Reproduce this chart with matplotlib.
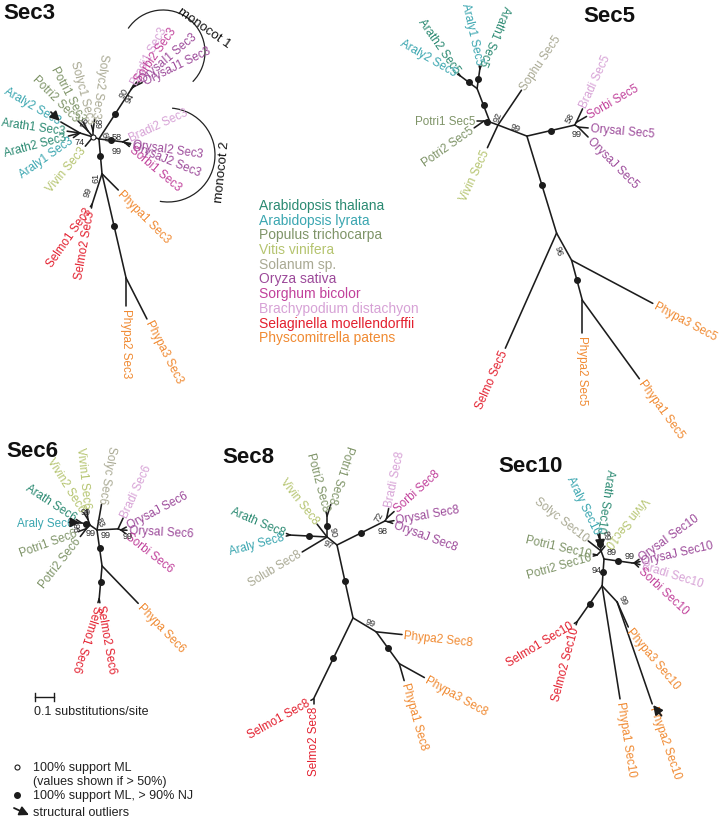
import numpy as np
import matplotlib
matplotlib.use("Agg")
import matplotlib.pyplot as plt
from matplotlib.patches import Arc

plt.rcParams['font.family'] = ['Liberation Sans', 'DejaVu Sans']

# ======================= DATA =======================
species_names = ["Arabidopsis thaliana", "Arabidopsis lyrata", "Populus trichocarpa",
                 "Vitis vinifera", "Solanum sp.", "Oryza sativa", "Sorghum bicolor",
                 "Brachypodium distachyon", "Selaginella moellendorffii", "Physcomitrella patens"]
species_colors = ["#2b8a72", "#3aa6b0", "#7f9468", "#b5c46f", "#a9a993",
                  "#9c4a9a", "#c1419b", "#d7a2d6", "#e3202f", "#f08a32"]
code_species = {"Arath": 0, "Araly": 1, "Potri": 2, "Vivin": 3, "Solyc": 4, "Sophu": 4,
                "Solub": 4, "Orysa": 5, "Sorbi": 6, "Bradi": 7, "Selmo": 8, "Phypa": 9}

# ---- Sec3 (branch lengths in substitutions/site) ----
sec3_nodes = ["a1", "Araly2 Sec3", "Arath1 Sec3", "Arath2 Sec3", "Araly1 Sec3",
              "p3", "Potri2 Sec3", "Potri1 Sec3", "s3", "Solyc1 Sec3", "Solyc2 Sec3",
              "Vivin Sec3", "c1", "m1", "Bradi1 Sec3", "m1a", "Sorbi2 Sec3", "OrysaI1 Sec3",
              "OrysaJ1 Sec3", "m2", "Bradi2 Sec3", "m2a", "OrysaI2 Sec3", "OrysaJ2 Sec3",
              "Sorbi1 Sec3", "n61", "sel3", "Selmo1 Sec3", "Selmo2 Sec3", "Phypa1 Sec3",
              "ph3", "Phypa2 Sec3", "Phypa3 Sec3"]
sec3_parents = ["root", "a1", "a1", "a1", "a1", "root", "p3", "p3", "root", "s3", "s3",
                "root", "root", "c1", "m1", "m1", "m1a", "m1a", "m1a", "c1", "m2", "m2",
                "m2a", "m2a", "m2a", "c1", "n61", "sel3", "sel3", "n61", "n61", "ph3", "ph3"]
sec3_lengths = [0.072, 0.116, 0.068, 0.063, 0.042, 0.042, 0.074, 0.053, 0.032, 0.032, 0.063,
                0.063, 0.033, 0.311, 0.026, 0.016, 0.032, 0.042, 0.053, 0.126, 0.032, 0.011,
                0.032, 0.032, 0.032, 0.184, 0.168, 0.016, 0.021, 0.121, 0.563, 0.147, 0.242]
sec3_support = {"m1": 90, "m1a": 94, "m2": 58, "m2a": 99, "n61": 61, "sel3": 99,
                "a1": 74, "p3": 56, "s3": 68, "c1": 66}
sec3_full = ["m1", "m2", "n61", "ph3"]
sec3_open = ["root"]
sec3_outliers = ["Araly2 Sec3"]

# ---- Sec5 ----
sec5_nodes = ["d5", "p5", "Potri1 Sec5", "Potri2 Sec5", "ab5", "a5b", "Arath2 Sec5",
              "Araly2 Sec5", "a5a", "Araly1 Sec5", "Arath1 Sec5", "Sophu Sec5", "Vivin Sec5",
              "q5", "m5", "m5a", "Bradi Sec5", "Sorbi Sec5", "m5b", "OrysaI Sec5", "OrysaJ Sec5",
              "r5", "Selmo Sec5", "s5", "Phypa3 Sec5", "t5", "Phypa2 Sec5", "Phypa1 Sec5"]
sec5_parents = ["root", "d5", "p5", "p5", "d5", "ab5", "a5b", "a5b", "ab5", "a5a", "a5a",
                "root", "root", "root", "q5", "m5", "m5a", "m5a", "m5", "m5b", "m5b",
                "q5", "r5", "r5", "s5", "s5", "t5", "t5"]
sec5_lengths = [0.045, 0.032, 0.037, 0.063, 0.189, 0.111, 0.016, 0.016, 0.105, 0.016, 0.016,
                0.221, 0.132, 0.163, 0.258, 0.016, 0.079, 0.063, 0.021, 0.053, 0.074,
                0.534, 0.663, 0.163, 0.484, 0.218, 0.174, 0.511]
sec5_support = {"d5": 92, "q5": 99, "m5a": 58, "m5b": 99, "s5": 96}
sec5_full = ["p5", "ab5", "a5b", "a5a", "m5", "r5", "t5"]

# ---- Sec6 ----
sec6_nodes = ["d6", "ar6", "Arath Sec6", "Araly Sec6", "v6", "Vivin2 Sec6", "Vivin1 Sec6",
              "p6", "Potri1 Sec6", "Potri2 Sec6", "Solyc Sec6", "m6", "Bradi Sec6", "m6a",
              "OrysaJ Sec6", "OrysaI Sec6", "Sorbi Sec6", "n6", "s6", "Selmo1 Sec6",
              "Selmo2 Sec6", "Phypa Sec6"]
sec6_parents = ["root", "d6", "ar6", "ar6", "d6", "v6", "v6", "d6", "p6", "p6", "root",
                "root", "m6", "m6", "m6a", "m6a", "m6a", "root", "n6", "s6", "s6", "n6"]
sec6_lengths = [0.045, 0.047, 0.032, 0.032, 0.032, 0.042, 0.053, 0.026, 0.047, 0.053, 0.137,
                0.111, 0.063, 0.016, 0.032, 0.032, 0.032, 0.191, 0.174, 0.021, 0.021, 0.274]
sec6_support = {"v6": 99, "d6": 83, "ar6": 98, "p6": 99, "m6": 99, "m6a": 99}
sec6_full = ["ar6", "n6", "s6"]
sec6_outliers = ["ar6"]

# ---- Sec8 ----
sec8_nodes = ["d8", "ar8", "Arath Sec8", "Araly Sec8", "po8", "Potri2 Sec8", "Potri1 Sec8",
              "Vivin Sec8", "Solub Sec8", "m8", "m8a", "Bradi Sec8", "Sorbi Sec8", "m8b",
              "OrysaI Sec8", "OrysaJ Sec8", "n8", "s8", "Selmo1 Sec8", "Selmo2 Sec8",
              "ph8", "Phypa2 Sec8", "ph8b", "Phypa1 Sec8", "Phypa3 Sec8"]
sec8_parents = ["root", "d8", "ar8", "ar8", "d8", "po8", "po8", "d8", "d8", "root", "m8",
                "m8a", "m8a", "m8", "m8b", "m8b", "root", "n8", "s8", "s8", "n8", "ph8",
                "ph8", "ph8b", "ph8b"]
sec8_lengths = [0.067, 0.195, 0.021, 0.021, 0.111, 0.021, 0.063, 0.086, 0.153, 0.283, 0.016,
                0.053, 0.053, 0.016, 0.032, 0.026, 0.393, 0.474, 0.016, 0.026, 0.142, 0.137,
                0.207, 0.093, 0.151]
sec8_support = {"d8": 97, "po8": 90, "m8a": 72, "m8b": 98, "ph8": 99}
sec8_full = ["ar8", "po8", "m8", "n8", "s8", "ph8b"]

# ---- Sec10 ----
sec10_nodes = ["d10", "ar10", "Arath Sec10", "Araly Sec10", "Vivin Sec10", "Solyc Sec10",
               "po10", "Potri1 Sec10", "Potri2 Sec10", "m10", "m10a", "OrysaI Sec10",
               "OrysaJ Sec10", "Bradi Sec10", "Sorbi Sec10", "n10", "s10", "Selmo1 Sec10",
               "Selmo2 Sec10", "Phypa1 Sec10", "ph10", "Phypa3 Sec10", "Phypa2 Sec10"]
sec10_parents = ["root", "d10", "ar10", "ar10", "d10", "d10", "d10", "po10", "po10", "root",
                 "m10", "m10a", "m10a", "m10a", "m10a", "root", "n10", "s10", "s10", "n10",
                 "n10", "ph10", "ph10"]
sec10_lengths = [0.045, 0.074, 0.016, 0.016, 0.032, 0.086, 0.030, 0.021, 0.021, 0.149, 0.011,
                 0.032, 0.032, 0.032, 0.032, 0.142, 0.231, 0.016, 0.016, 0.602, 0.116, 0.144,
                 0.567]
sec10_support = {"ar10": 89, "d10": 89, "po10": 94, "m10a": 99, "ph10": 99}
sec10_full = ["ar10", "m10", "n10", "s10"]
sec10_outliers = ["d10", "Phypa2 Sec10"]

scale_value = 0.1
scale_label = "0.1 substitutions/site"
legend_open = ["100% support ML", "(values shown if > 50%)"]
legend_full = "100% support ML, > 90% NJ"
legend_arrow = "structural outliers"

# ======================= LAYOUT =======================
PX = 190.0          # pixels per substitution/site
LINE = "#1c1c1c"

sec3_layout = dict(
    root=(93, 138),
    angles=[163, 150, 172, 195, 215, 130, 135, 118, 90, 105, 82, 230, -18, 57, 62, 50, 55, 40,
            26, -7, 25, -20, -8, -22, -40, -85, -108, -125, -100, -45, -77, -90, -63],
    flip={"Solyc2 Sec3"}, noflip=set(), rot={},
    sup={"m1": (-7, 3, 60), "m1a": (-3, 10, 60), "m2": (-6, -5, 0), "m2a": (-8, 8, 0),
         "n61": (-6, 3, 90), "sel3": (-4, -13, 70), "a1": (0, 8, 0), "p3": (-3, -10, 70),
         "s3": (7, -9, 90), "c1": (6, -3, -60)},
    arrows={"Araly2 Sec3": (135, 14)})

sec5_layout = dict(
    root=(498, 126),
    angles=[160, 170, 180, 215, 111, 143, 125, 150, 82, 103, 67, 56, 245, -21, 13, 60, 65, 30,
            -30, -5, -45, -73, 246, -61, -28, -75, -90, -54],
    flip={"Arath1 Sec5"}, noflip=set(), rot={},
    sup={"d5": (8, -6, 70), "q5": (-12, -9, -20), "m5a": (-6, -5, 60), "m5b": (-2, 6, 0),
         "s5": (-13, -10, -75)},
    arrows={})

sec6_layout = dict(
    root=(97, 531),
    angles=[145, 165, 147, 180, 110, 122, 96, 225, 200, 232, 80, 3, 65, -20, 28, -3, -38,
            -82, -95, -108, -80, -46],
    flip={"Solyc Sec6"}, noflip={"Selmo1 Sec6"}, rot={},
    sup={"v6": (-2, -8, 0), "d6": (10, -4, -65), "ar6": (-3, 3, 90), "p6": (4, 4, 0),
         "m6": (-12, 6, 0), "m6a": (7, 6, 0)},
    arrows={"ar6": (178, 12)})

sec8_layout = dict(
    root=(337, 546),
    angles=[141, 177, 157, 195, 90, 105, 72, 128, 211, 26.6, 60, 78, 42, -15, 10, -20,
            -77.6, -116, 209, -90, -31, -6, -54, -74, -29],
    flip={"Potri1 Sec8", "Selmo2 Sec8"}, noflip=set(), rot={},
    sup={"d8": (1, 7, -25), "po8": (6, 16, -80), "m8a": (-8, -2, 60), "m8b": (-5, 9, 0),
         "ph8": (-6, -9, -20)},
    arrows={})

sec10_layout = dict(
    root=(604, 560),
    angles=[110, 98, 81, 116, 51, 142, 225, 167, 196, -8, 0, 36, 13, -17, -43, -94, 235, 211,
            255, -81, -47, -66, -71],
    flip={"Arath Sec10", "Vivin Sec10"}, noflip=set(), rot={"Phypa3 Sec10": -50},
    sup={"ar10": (7, -3, -80), "d10": (11, 1, 0), "po10": (0, 15, 0), "m10a": (-4, -7, 0),
         "ph10": (6, -3, -65)},
    arrows={"d10": (95, 17), "Phypa2 Sec10": (-52, 15)})


def label_color(name):
    return species_colors[code_species[name[:5]]]


def draw_tree(ax, nodes, parents, lengths, lay, support, full, opens=(), outliers=()):
    pos = {"root": lay["root"]}
    ang = dict(zip(nodes, lay["angles"]))
    for n, p, L in zip(nodes, parents, lengths):
        x0, y0 = pos[p]
        r = np.radians(ang[n])
        pos[n] = (x0 + L * PX * np.cos(r), y0 - L * PX * np.sin(r))
    internal = set(parents)
    par = dict(zip(nodes, parents))
    for n in nodes:
        p = par[n]
        ax.plot([pos[p][0], pos[n][0]], [pos[p][1], pos[n][1]], color=LINE, lw=1.15,
                solid_capstyle="round", zorder=2)
    for n in full:
        p = par[n]
        ax.plot((pos[p][0] + pos[n][0]) / 2, (pos[p][1] + pos[n][1]) / 2, "o", ms=4.0,
                color=LINE, zorder=3)
    for n in opens:
        ax.plot(pos[n][0], pos[n][1], "o", ms=3.6, mfc="white", mec=LINE, mew=0.8, zorder=4)
    for n, val in support.items():
        dx, dy, rot = lay["sup"][n]
        ax.text(pos[n][0] + dx, pos[n][1] + dy, str(val), fontsize=6.6, rotation=rot,
                ha="center", va="center", color="#2a2a2a", zorder=5)
    for n in nodes:
        if n in internal:
            continue
        a = ang[n] % 360
        flip = 90 < a < 270
        if n in lay["flip"]:
            flip = not flip
        if n in lay["noflip"]:
            flip = False
        rot = lay["rot"].get(n, a - 180 if flip else a)
        r = np.radians(ang[n])
        tx = pos[n][0] + 2.0 * np.cos(r)
        ty = pos[n][1] - 2.0 * np.sin(r)
        ax.text(tx, ty, n, rotation=rot, rotation_mode="anchor",
                ha="right" if flip else "left", va="center", fontsize=8.4,
                color=label_color(n), zorder=4)
    for n in outliers:
        d, L = lay["arrows"][n]
        r = np.radians(d)
        x, y = pos[n]
        ax.annotate("", xy=(x + 1.5 * np.cos(r), y - 1.5 * np.sin(r)),
                    xytext=(x + L * np.cos(r), y - L * np.sin(r)),
                    arrowprops=dict(arrowstyle="-|>,head_length=0.55,head_width=0.28",
                                    color=LINE, lw=1.3, shrinkA=0, shrinkB=0), zorder=6)
    return pos


fig = plt.figure(figsize=(7.2, 8.2), dpi=100)
ax = fig.add_axes([0, 0, 1, 1])
ax.set_xlim(0, 720)
ax.set_ylim(820, 0)
ax.axis("off")

draw_tree(ax, sec3_nodes, sec3_parents, sec3_lengths, sec3_layout, sec3_support, sec3_full,
          sec3_open, sec3_outliers)
draw_tree(ax, sec5_nodes, sec5_parents, sec5_lengths, sec5_layout, sec5_support, sec5_full)
draw_tree(ax, sec6_nodes, sec6_parents, sec6_lengths, sec6_layout, sec6_support, sec6_full,
          (), sec6_outliers)
draw_tree(ax, sec8_nodes, sec8_parents, sec8_lengths, sec8_layout, sec8_support, sec8_full)
draw_tree(ax, sec10_nodes, sec10_parents, sec10_lengths, sec10_layout, sec10_support,
          sec10_full, (), sec10_outliers)

# titles
for txt, x, y in [("Sec3", 3, 3), ("Sec5", 583, 6), ("Sec6", 6, 441), ("Sec8", 222, 447),
                  ("Sec10", 498, 456)]:
    ax.text(x, y, txt, fontsize=16, fontweight="bold", ha="left", va="top", color="#111")

# monocot brackets
ax.add_patch(Arc((163, 53), 84, 84, theta1=-146, theta2=45, color="#222", lw=0.9))
ax.add_patch(Arc((168, 156), 94, 94, theta1=-85, theta2=100, color="#222", lw=0.9))
ax.text(204, 28, "monocot 1", fontsize=9.5, rotation=-35, ha="center", va="center", color="#111")
ax.text(222, 172, "monocot 2", fontsize=9.5, rotation=84, ha="center", va="center", color="#111")

# species legend
for i, (nm, col) in enumerate(zip(species_names, species_colors)):
    ax.text(259, 206 + i * 14.7, nm, fontsize=10, color=col, ha="left", va="center")

# scale bar
x0 = 35
x1 = x0 + scale_value * PX
ax.plot([x0, x1], [698, 698], color=LINE, lw=1.0)
ax.plot([x0, x0], [694, 702], color=LINE, lw=1.0)
ax.plot([x1, x1], [694, 702], color=LINE, lw=1.0)
ax.text(34, 712, scale_label, fontsize=9, ha="left", va="center", color="#222")

# support legend
ax.plot(17, 768, "o", ms=3.6, mfc="white", mec=LINE, mew=0.8)
ax.text(33, 768, legend_open[0], fontsize=9, ha="left", va="center", color="#222")
ax.text(33, 782, legend_open[1], fontsize=9, ha="left", va="center", color="#222")
ax.plot(17, 796, "o", ms=4.0, color=LINE)
ax.text(33, 796, legend_full, fontsize=9, ha="left", va="center", color="#222")
ax.annotate("", xy=(29, 816), xytext=(14, 809),
            arrowprops=dict(arrowstyle="-|>,head_length=0.55,head_width=0.28", color=LINE,
                            lw=1.3, shrinkA=0, shrinkB=0))
ax.text(33, 813, legend_arrow, fontsize=9, ha="left", va="center", color="#222")

fig.savefig("out.png", dpi=100)
